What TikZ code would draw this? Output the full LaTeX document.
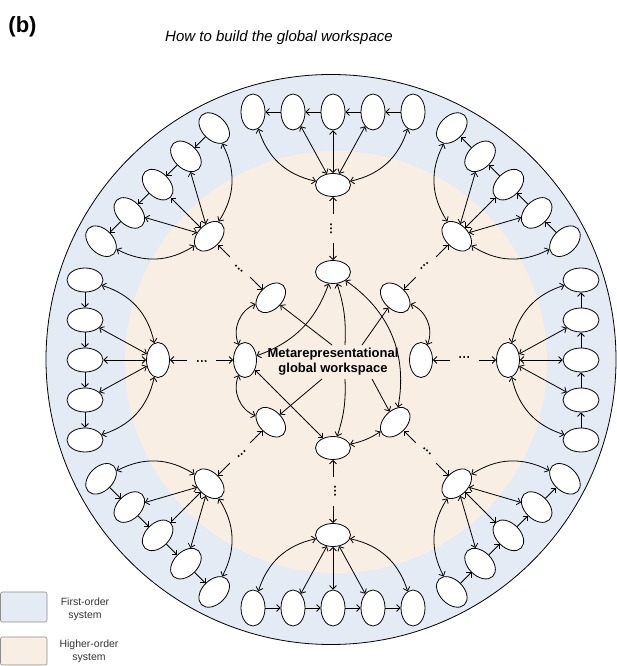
\documentclass[tikz,border=0pt]{standalone}
\usepackage{fontspec}
\setmainfont{Liberation Sans}
\usetikzlibrary{arrows.meta,shapes.geometric}

\definecolor{foblue}{HTML}{E4EBF5}
\definecolor{hopeach}{HTML}{F8EEE4}

\begin{document}
\begin{tikzpicture}[x=1pt,y=1pt,line width=0.8pt,>={Straight Barb[length=3.5pt,width=7pt]}]
  \tikzstyle{fonode}=[ellipse,draw,fill=white,inner sep=0pt,minimum width=24pt,minimum height=36pt]
  \tikzstyle{honode}=[ellipse,draw,fill=white,inner sep=0pt,minimum width=35pt,minimum height=23pt]
  \tikzstyle{gap}=[rotate=90,inner sep=0pt,font=\bfseries\fontsize{12}{12}\selectfont,text height=4pt,text depth=-1pt]
  \tikzstyle{key}=[draw=black!45,line width=0.6pt,rounded corners=2pt,minimum width=46.5pt]
  \tikzstyle{keytext}=[font=\fontsize{10.5}{13}\selectfont,text=black!80,align=center]
  \useasboundingbox (0,0) rectangle (617,666);

  \fill[foblue] (331,306.5) circle (285);
  \fill[hopeach] (336,304) circle (211);
  \draw (331,306.5) circle (285);

  \node[font=\bfseries\fontsize{22}{26}\selectfont] (tag) at (22.5,639) {(b)};
  \node[font=\itshape\fontsize{15}{18}\selectfont] (title) at (279,628) {How to build the global workspace};

  \foreach \k in {0,...,7}{
    \begin{scope}[shift={(333,306)},rotate=45*\k,transform shape]
      \node[honode] (h\k) at (0,175) {};
      \node[honode] (r\k) at (0,88) {};
      \foreach \i/\x in {1/-80,2/-40,3/0,4/40,5/80}
        \node[fonode] (c\k\i) at (\x,248) {};
      \foreach \i/\j in {2/1,3/2,4/3,5/4}
        \draw[->] (c\k\i) -- (c\k\j);
      \draw[<->] (h\k) to[bend left=30] (c\k1);
      \draw[<->] (h\k) to[bend right=30] (c\k5);
      \foreach \i in {2,3,4}
        \draw[<->] (h\k) -- (c\k\i);
      \coordinate (a\k) at (0,146);
      \coordinate (b\k) at (0,117);
      \draw[->] (a\k) -- (h\k);
      \draw[->] (b\k) -- (r\k);
      \node[gap] (dots\k) at (0,131.5) {···};
    \end{scope}
  }

  \node[font=\bfseries\fontsize{13}{15}\selectfont,align=center,inner sep=3pt] (gw) at (333,304)
    {Metarepresentational\\global workspace};
  \draw[->] ([xshift=-1pt]gw.north) -- (r1);
  \draw[->] ([xshift=12pt]gw.north) to[bend right=10] (r0);
  \draw[->] ([xshift=29pt]gw.north) -- (r7);
  \draw[->] ([xshift=-11pt]gw.south) -- (r3);
  \draw[->] ([xshift=12pt]gw.south) to[bend left=10] (r4);
  \draw[->] ([xshift=39pt]gw.south) -- (r5);
  \draw[<->] (r1) to[bend right=45] (r2);
  \draw[<->] (r2) to[bend right=45] (r3);
  \draw[<->] (r7) to[bend left=45] (r6);
  \draw[<->] (r4) to[bend right=10] (r5);
  \draw[<->] (r2) to[bend right=25] (r0);
  \draw[<->] (r0) to[bend left=33] (r5);
  \draw[<->] (r2) -- (r4);

  \node[key,fill=foblue,minimum height=30pt] (fokey) at (23.75,59) {};
  \node[key,fill=hopeach,minimum height=28pt] (hokey) at (23.75,15) {};
  \node[keytext] (fotext) at (85,57) {First-order\\system};
  \node[keytext] (hotext) at (89,15) {Higher-order\\system};
\end{tikzpicture}
\end{document}
